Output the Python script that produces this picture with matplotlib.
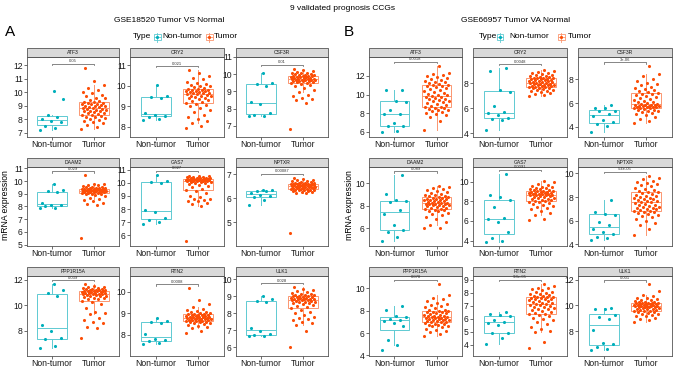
import numpy as np
import matplotlib.pyplot as plt
from matplotlib.patches import Rectangle

plt.rcParams['font.family'] = ['Liberation Sans', 'DejaVu Sans']

genes = ['ATF3', 'CRY2', 'CSF3R', 'DAAM2', 'GAS7', 'NPTXR', 'PPP1R15A', 'RTN2', 'ULK1']
groups = ['Non-tumor', 'Tumor']
pvals_a = ['0.05', '0.021', '0.01', '0.029', '0.027', '0.00087', '0.039', '0.0008', '0.028']
pvals_b = ['0.0018', '0.0048', '3e-06', '0.089', '0.0091', '5.4e-05', '0.078', '9.8e-05', '0.001']

# GSE18520 - non-tumor
a_atf3_n = [7.2, 7.4, 7.5, 7.8, 7.9, 8.0, 8.2, 8.3, 9.5, 10.1]
a_cry2_n = [8.35, 8.4, 8.5, 8.55, 8.6, 8.65, 9.4, 9.45, 9.5, 10.05]
a_csf3r_n = [7.6, 7.6, 7.65, 7.75, 8.3, 8.4, 9.3, 9.45, 9.5, 10.05]
a_daam2_n = [7.85, 7.9, 8.05, 8.1, 8.15, 8.25, 9.1, 9.2, 9.3, 9.75]
a_gas7_n = [6.9, 7.0, 7.2, 7.3, 7.75, 7.95, 10.0, 10.05, 10.1, 10.6]
a_nptxr_n = [5.72, 5.92, 6.05, 6.1, 6.15, 6.2, 6.3, 6.3, 6.32, 6.35]
a_ppp1r15a_n = [6.6, 6.75, 7.3, 7.4, 7.95, 8.45, 10.7, 10.95, 11.2, 11.65]
a_rtn2_n = [7.6, 7.65, 7.7, 7.75, 7.8, 8.05, 8.55, 8.6, 8.65, 8.8]
a_ulk1_n = [6.7, 6.7, 6.75, 6.8, 6.95, 7.15, 8.7, 8.75, 8.85, 9.05]

# GSE18520 - tumor
a_atf3_t = [7.3, 7.45, 7.6, 7.7, 7.8, 7.9, 7.95, 8.0, 8.1, 8.15, 8.2, 8.25, 8.3, 8.32,
            8.4, 8.45, 8.5, 8.55, 8.6, 8.62, 8.65, 8.7, 8.72, 8.75, 8.8, 8.82, 8.84,
            8.88, 8.9, 8.95, 9.0, 9.02, 9.05, 9.1, 9.12, 9.15, 9.2, 9.22, 9.25, 9.28,
            9.35, 9.45, 9.55, 9.6, 9.7, 9.8, 9.95, 10.05, 10.2, 10.35, 10.55, 10.8, 11.8]
a_cry2_t = [7.95, 8.05, 8.2, 8.3, 8.4, 8.5, 8.6, 8.7, 8.8, 8.9, 9.0, 9.05, 9.1, 9.15,
            9.2, 9.25, 9.3, 9.35, 9.4, 9.42, 9.45, 9.48, 9.5, 9.52, 9.55, 9.58, 9.6,
            9.62, 9.64, 9.66, 9.68, 9.7, 9.72, 9.74, 9.76, 9.78, 9.8, 9.81, 9.82, 9.83,
            9.88, 9.92, 9.96, 10.0, 10.05, 10.1, 10.15, 10.2, 10.3, 10.35, 10.45, 10.6, 10.75]
a_csf3r_t = [6.85, 8.35, 8.5, 8.55, 8.6, 8.75, 8.8, 8.95, 9.1, 9.2, 9.3, 9.4, 9.45, 9.5,
             9.52, 9.54, 9.56, 9.58, 9.6, 9.62, 9.63, 9.64, 9.65, 9.66, 9.67, 9.68, 9.7,
             9.72, 9.74, 9.75, 9.76, 9.78, 9.8, 9.82, 9.84, 9.85, 9.86, 9.88, 9.89, 9.9,
             9.92, 9.94, 9.96, 9.98, 10.0, 10.02, 10.05, 10.08, 10.1, 10.15, 10.2, 10.25, 10.32]
a_daam2_t = [5.5, 8.15, 8.2, 8.3, 8.4, 8.5, 8.6, 8.7, 8.8, 8.9, 8.95, 9.0, 9.02, 9.05,
             9.07, 9.09, 9.1, 9.12, 9.14, 9.15, 9.17, 9.18, 9.2, 9.21, 9.22, 9.24, 9.25,
             9.26, 9.27, 9.28, 9.29, 9.3, 9.31, 9.32, 9.34, 9.35, 9.36, 9.37, 9.39, 9.4,
             9.42, 9.44, 9.46, 9.48, 9.5, 9.52, 9.55, 9.6, 9.65, 9.7, 9.75, 9.8, 10.45]
a_gas7_t = [5.6, 8.25, 8.4, 8.5, 8.6, 8.65, 8.7, 8.75, 8.8, 8.9, 9.0, 9.2, 9.35, 9.45,
            9.55, 9.65, 9.75, 9.85, 9.9, 9.95, 10.0, 10.03, 10.06, 10.08, 10.1, 10.12, 10.15,
            10.16, 10.17, 10.18, 10.19, 10.2, 10.21, 10.22, 10.24, 10.25, 10.26, 10.28, 10.29, 10.3,
            10.31, 10.32, 10.33, 10.35, 10.36, 10.38, 10.4, 10.42, 10.44, 10.46, 10.48, 10.5, 10.55]
a_nptxr_t = [4.55, 6.2, 6.22, 6.24, 6.26, 6.28, 6.3, 6.32, 6.33, 6.34, 6.35, 6.36, 6.38, 6.39,
             6.4, 6.41, 6.42, 6.43, 6.44, 6.45, 6.46, 6.46, 6.47, 6.48, 6.48, 6.49, 6.5,
             6.51, 6.52, 6.53, 6.54, 6.55, 6.55, 6.56, 6.57, 6.57, 6.58, 6.59, 6.59, 6.6,
             6.61, 6.62, 6.63, 6.64, 6.65, 6.66, 6.68, 6.7, 6.72, 6.74, 6.77, 6.8, 6.85]
a_ppp1r15a_t = [7.4, 8.2, 8.25, 8.6, 8.7, 8.8, 9.0, 9.3, 9.4, 9.5, 9.8, 10.1, 10.25, 10.35,
                10.45, 10.5, 10.55, 10.6, 10.65, 10.7, 10.72, 10.75, 10.78, 10.8, 10.85, 10.88, 10.9,
                10.92, 10.94, 10.96, 10.98, 11.0, 11.02, 11.04, 11.06, 11.08, 11.1, 11.12, 11.14, 11.15,
                11.17, 11.19, 11.21, 11.23, 11.25, 11.28, 11.3, 11.33, 11.36, 11.4, 11.45, 11.5, 11.65]
a_rtn2_t = [8.1, 8.2, 8.3, 8.38, 8.43, 8.48, 8.52, 8.55, 8.57, 8.59, 8.61, 8.62, 8.64, 8.65,
            8.66, 8.67, 8.68, 8.7, 8.71, 8.72, 8.73, 8.74, 8.75, 8.76, 8.78, 8.79, 8.8,
            8.81, 8.82, 8.83, 8.84, 8.85, 8.86, 8.87, 8.89, 8.9, 8.91, 8.92, 8.94, 8.95,
            8.97, 8.99, 9.01, 9.03, 9.05, 9.08, 9.1, 9.15, 9.2, 9.3, 9.45, 9.6, 10.15]
a_ulk1_t = [6.05, 6.95, 7.3, 7.45, 7.5, 7.6, 7.7, 7.75, 7.8, 7.9, 8.0, 8.1, 8.2, 8.3,
            8.4, 8.45, 8.5, 8.55, 8.6, 8.62, 8.65, 8.68, 8.7, 8.72, 8.75, 8.78, 8.8,
            8.81, 8.82, 8.83, 8.84, 8.85, 8.86, 8.88, 8.9, 8.92, 8.94, 8.96, 8.98, 9.0,
            9.02, 9.04, 9.06, 9.08, 9.1, 9.12, 9.15, 9.2, 9.25, 9.3, 9.35, 9.45, 9.55]

# GSE66957 - non-tumor
b_atf3_n = [5.95, 6.1, 6.6, 6.65, 6.9, 7.9, 7.95, 8.3, 9.25, 9.3, 10.45, 10.5]
b_cry2_n = [4.3, 5.05, 5.15, 5.25, 5.5, 5.6, 5.7, 6.2, 7.3, 7.5, 9.0, 9.2]
b_csf3r_n = [3.55, 4.1, 4.2, 4.4, 4.6, 4.9, 5.1, 5.3, 5.35, 5.55, 5.6, 5.8]
b_daam2_n = [4.85, 5.2, 5.7, 5.85, 6.3, 7.3, 7.6, 8.3, 8.4, 8.5, 9.05, 10.7]
b_gas7_n = [3.9, 3.95, 4.3, 4.85, 5.9, 6.2, 6.3, 7.4, 8.1, 8.4, 8.6, 10.8]
b_nptxr_n = [4.35, 4.55, 4.65, 4.9, 5.0, 5.3, 5.6, 5.9, 6.5, 6.6, 6.7, 7.75]
b_ppp1r15a_n = [4.5, 4.9, 5.4, 6.6, 6.9, 7.1, 7.2, 7.3, 7.4, 7.5, 8.05, 8.4]
b_rtn2_n = [4.05, 4.5, 4.9, 4.95, 5.55, 5.7, 5.8, 5.9, 6.2, 6.3, 6.4, 6.55]
b_ulk1_n = [6.55, 6.6, 6.75, 7.0, 7.1, 8.05, 8.95, 9.1, 9.25, 9.7, 9.75, 9.8]

# GSE66957 - tumor
b_atf3_t = [6.2, 7.2, 7.6, 7.8, 7.9, 8.0, 8.1, 8.2, 8.3, 8.35, 8.45, 8.5, 8.6, 8.65, 8.7,
            8.8, 8.9, 9.0, 9.1, 9.2, 9.3, 9.35, 9.4, 9.5, 9.55, 9.6, 9.7, 9.75, 9.8,
            9.9, 10.0, 10.1, 10.2, 10.3, 10.4, 10.5, 10.6, 10.7, 10.8, 10.9, 10.95, 11.0, 11.05,
            11.1, 11.2, 11.3, 11.4, 11.5, 11.6, 11.7, 11.8, 11.9, 12.0, 12.1, 12.2, 12.3, 13.1]
b_cry2_t = [7.0, 7.05, 7.15, 7.2, 7.3, 7.35, 7.4, 7.45, 7.5, 7.55, 7.6, 7.62, 7.65, 7.68, 7.7,
            7.72, 7.75, 7.78, 7.8, 7.83, 7.86, 7.88, 7.9, 7.93, 7.95, 7.98, 8.0, 8.03, 8.05,
            8.07, 8.1, 8.12, 8.15, 8.18, 8.2, 8.22, 8.25, 8.28, 8.3, 8.33, 8.36, 8.38, 8.4,
            8.42, 8.45, 8.48, 8.5, 8.55, 8.6, 8.65, 8.7, 8.75, 8.8, 8.85, 8.9, 9.0, 9.1]
b_csf3r_t = [4.3, 4.5, 4.65, 4.8, 4.95, 5.05, 5.15, 5.25, 5.3, 5.35, 5.4, 5.45, 5.5, 5.55, 5.6,
             5.62, 5.64, 5.66, 5.68, 5.7, 5.72, 5.74, 5.76, 5.78, 5.8, 5.83, 5.85, 5.88, 5.9,
             5.95, 6.0, 6.05, 6.1, 6.2, 6.3, 6.35, 6.4, 6.5, 6.6, 6.7, 6.75, 6.8, 6.85,
             6.9, 7.0, 7.1, 7.2, 7.3, 7.4, 7.5, 7.6, 7.7, 7.85, 8.0, 8.3, 8.5, 9.1]
b_daam2_t = [6.0, 6.05, 6.3, 6.6, 6.8, 7.0, 7.15, 7.3, 7.4, 7.5, 7.55, 7.6, 7.65, 7.7, 7.75,
             7.8, 7.85, 7.9, 7.95, 8.0, 8.03, 8.06, 8.1, 8.12, 8.15, 8.18, 8.2, 8.22, 8.25,
             8.28, 8.3, 8.35, 8.4, 8.45, 8.5, 8.52, 8.55, 8.6, 8.62, 8.65, 8.7, 8.72, 8.75,
             8.8, 8.85, 8.9, 8.95, 9.0, 9.05, 9.1, 9.2, 9.3, 9.4, 9.5, 9.6, 9.7, 9.8]
b_gas7_t = [6.1, 6.2, 6.6, 6.8, 7.0, 7.2, 7.3, 7.4, 7.5, 7.6, 7.7, 7.8, 7.9, 7.95, 8.0,
            8.05, 8.1, 8.15, 8.2, 8.25, 8.3, 8.35, 8.4, 8.45, 8.5, 8.55, 8.6, 8.62, 8.65,
            8.68, 8.7, 8.72, 8.75, 8.78, 8.8, 8.85, 8.88, 8.9, 8.95, 8.98, 9.0, 9.02, 9.05,
            9.1, 9.15, 9.2, 9.25, 9.3, 9.35, 9.4, 9.45, 9.5, 9.6, 9.7, 9.8, 9.95, 10.1]
b_nptxr_t = [4.8, 5.25, 5.6, 5.8, 6.0, 6.15, 6.3, 6.4, 6.5, 6.6, 6.65, 6.7, 6.75, 6.8, 6.85,
             6.9, 6.95, 7.0, 7.05, 7.1, 7.15, 7.2, 7.25, 7.3, 7.35, 7.4, 7.5, 7.55, 7.6,
             7.65, 7.7, 7.75, 7.8, 7.85, 7.9, 7.95, 8.0, 8.05, 8.1, 8.2, 8.3, 8.35, 8.4,
             8.45, 8.5, 8.6, 8.7, 8.8, 8.9, 9.0, 9.1, 9.2, 9.3, 9.4, 9.5, 9.65, 9.8]
b_ppp1r15a_t = [5.7, 5.9, 6.1, 6.2, 6.3, 6.4, 6.5, 6.6, 6.65, 6.7, 6.75, 6.8, 6.85, 6.9, 6.95,
                7.0, 7.03, 7.06, 7.1, 7.13, 7.16, 7.2, 7.23, 7.26, 7.3, 7.33, 7.36, 7.38, 7.4,
                7.43, 7.46, 7.5, 7.53, 7.56, 7.6, 7.65, 7.7, 7.75, 7.8, 7.85, 7.9, 7.92, 7.95,
                8.0, 8.05, 8.1, 8.2, 8.3, 8.4, 8.5, 8.6, 8.7, 8.85, 9.0, 9.15, 9.4, 10.4]
b_rtn2_t = [3.75, 4.2, 5.0, 5.1, 5.2, 5.4, 5.6, 5.75, 5.9, 6.0, 6.1, 6.2, 6.3, 6.35, 6.4,
            6.45, 6.5, 6.6, 6.7, 6.75, 6.8, 6.85, 6.9, 6.95, 7.0, 7.05, 7.1, 7.12, 7.15,
            7.2, 7.25, 7.3, 7.35, 7.4, 7.45, 7.5, 7.52, 7.55, 7.6, 7.63, 7.66, 7.68, 7.7,
            7.75, 7.8, 7.85, 7.9, 7.95, 8.0, 8.05, 8.1, 8.2, 8.3, 8.35, 8.4, 8.55, 8.7]
b_ulk1_t = [8.7, 8.85, 8.95, 9.05, 9.15, 9.2, 9.25, 9.3, 9.35, 9.4, 9.45, 9.5, 9.55, 9.58, 9.6,
            9.63, 9.66, 9.7, 9.73, 9.76, 9.79, 9.82, 9.85, 9.87, 9.89, 9.91, 9.92, 9.94, 9.95,
            9.96, 9.98, 10.0, 10.02, 10.04, 10.06, 10.08, 10.1, 10.12, 10.14, 10.16, 10.17, 10.19, 10.2,
            10.22, 10.25, 10.28, 10.3, 10.35, 10.4, 10.45, 10.5, 10.55, 10.6, 10.7, 10.85, 11.1, 11.65]

panel_a = [(a_atf3_n, a_atf3_t), (a_cry2_n, a_cry2_t), (a_csf3r_n, a_csf3r_t),
           (a_daam2_n, a_daam2_t), (a_gas7_n, a_gas7_t), (a_nptxr_n, a_nptxr_t),
           (a_ppp1r15a_n, a_ppp1r15a_t), (a_rtn2_n, a_rtn2_t), (a_ulk1_n, a_ulk1_t)]
panel_b = [(b_atf3_n, b_atf3_t), (b_cry2_n, b_cry2_t), (b_csf3r_n, b_csf3r_t),
           (b_daam2_n, b_daam2_t), (b_gas7_n, b_gas7_t), (b_nptxr_n, b_nptxr_t),
           (b_ppp1r15a_n, b_ppp1r15a_t), (b_rtn2_n, b_rtn2_t), (b_ulk1_n, b_ulk1_t)]

# axis settings (free y scales per facet)
ylim_a = [(6.7, 12.6), (7.51, 11.39), (6.36, 11.0), (4.9, 11.1), (5.2, 11.2), (4.0, 7.3),
          (6.0, 12.3), (7.03, 10.72), (5.5, 10.2)]
ticks_a = [range(7, 13), range(8, 12), range(7, 12), range(5, 12), range(6, 12), range(5, 8),
           [8, 10, 12], range(8, 11), range(6, 11)]
ylim_b = [(5.43, 14.04), (3.7, 10.1), (3.13, 9.9), (4.43, 11.45), (3.45, 11.5), (3.85, 10.55),
          (3.95, 11.1), (3.15, 9.3), (6.05, 12.3)]
ticks_b = [[6, 8, 10, 12], [4, 6, 8], [4, 6, 8], [6, 8, 10], [4, 6, 8, 10], [4, 6, 8, 10],
           [4, 6, 8, 10], range(4, 10), [8, 10, 12]]

W, H = 677, 369
fig = plt.figure(figsize=(W / 100, H / 100), dpi=100)

teal, orange = '#00AFBB', '#FC4E07'
teal_box, orange_box = '#5FCAD2', '#FB9670'
cols_a = [(27, 119), (130, 224), (236, 328)]
cols_b = [(369, 462), (473, 567), (578, 672)]
rows = [(57, 137), (167, 246), (276, 356)]
strip_h = 9


def draw_facet(x0, x1, y0, y1, gene, vals, p, ylim, ticks):
    ax = fig.add_axes([x0 / W, 1 - y1 / H, (x1 - x0) / W, (y1 - y0) / H])
    for k, v in enumerate(vals):
        c, cb = (teal, teal_box) if k == 0 else (orange, orange_box)
        v = np.asarray(v)
        ax.boxplot([v], positions=[k + 1], widths=0.7, showfliers=False, showcaps=False,
                   patch_artist=True,
                   boxprops=dict(facecolor='white', edgecolor=cb, lw=0.7),
                   medianprops=dict(color=cb, lw=0.7),
                   whiskerprops=dict(color=cb, lw=0.7))
        jit = ((np.arange(len(v)) * 0.618034) % 1 - 0.5) * 0.6
        ax.scatter(k + 1 + jit, v, s=5, color=c, lw=0, zorder=3)
    ax.set_xlim(0.4, 2.6)
    ax.set_ylim(*ylim)
    ax.set_yticks(list(ticks))
    ax.set_xticks([1, 2])
    ax.set_xticklabels(groups)
    ax.tick_params(labelsize=6.2, length=2, width=0.5, color='#333333', pad=1,
                   labelcolor='#1A1A1A')
    ax.tick_params(axis='x', pad=0.4)
    for s in ax.spines.values():
        s.set_color('#555555')
        s.set_linewidth(0.6)
    span = ylim[1] - ylim[0]
    top = max(max(vals[0]), max(vals[1]))
    yb = top + 0.05 * span
    d = 0.015 * span
    ax.plot([1, 1, 2, 2], [yb - d, yb, yb, yb - d], color='#555555', lw=0.5, clip_on=False)
    ax.text(1.5, yb + 0.006 * span, p, ha='center', va='bottom', fontsize=3, color='#333333')
    sh = strip_h / (y1 - y0)
    ax.add_patch(Rectangle((0, 1), 1, sh, transform=ax.transAxes, clip_on=False,
                           fc='#D9D9D9', ec='#555555', lw=0.6))
    ax.text(0.5, 1 + sh / 2, gene, transform=ax.transAxes, ha='center', va='center',
            fontsize=3.6, color='#1A1A1A')
    return ax


for cols, panel, pv, ylims, tks in [(cols_a, panel_a, pvals_a, ylim_a, ticks_a),
                                    (cols_b, panel_b, pvals_b, ylim_b, ticks_b)]:
    for i in range(9):
        r, c = divmod(i, 3)
        draw_facet(cols[c][0], cols[c][1], rows[r][0], rows[r][1], genes[i],
                   panel[i], pv[i], ylims[i], tks[i])


def legend_key(xc, yc, c, cb):
    w, h = 7, 6
    fig.add_artist(plt.Line2D([xc / W, xc / W], [1 - (yc - 4.5) / H, 1 - (yc + 4.5) / H],
                              color=cb, lw=0.6, transform=fig.transFigure))
    fig.add_artist(Rectangle(((xc - w / 2) / W, 1 - (yc + h / 2) / H), w / W, h / H,
                             fc='white', ec=cb, lw=0.6, transform=fig.transFigure))
    fig.add_artist(plt.Line2D([(xc - w / 2) / W, (xc + w / 2) / W], [1 - yc / H, 1 - yc / H],
                              color=cb, lw=0.6, transform=fig.transFigure))
    fig.add_artist(plt.Line2D([xc / W], [1 - yc / H], marker='o', ms=2.3, color=c, mew=0,
                              transform=fig.transFigure))


def ftext(x, y, s, **kw):
    fig.text(x / W, 1 - y / H, s, **kw)


ftext(343, 8, '9 validated prognosis CCGs', ha='center', va='center', fontsize=6)
for lx, tx, title, keys, ylx in [(10, 169.5, 'GSE18520 Tumor VS Normal', (133, 157, 162, 209, 214), 6),
                                 (349, 515.5, 'GSE66957 Tumor VA Normal', (479, 500, 509, 561, 568), 350)]:
    ftext(lx, 32, 'A' if lx < 100 else 'B', ha='center', va='center', fontsize=11)
    ftext(tx, 20, title, ha='center', va='center', fontsize=6)
    ftext(keys[0], 37, 'Type', ha='left', va='center', fontsize=6)
    legend_key(keys[1], 37, teal, teal_box)
    ftext(keys[2], 37, groups[0], ha='left', va='center', fontsize=6)
    legend_key(keys[3], 37, orange, orange_box)
    ftext(keys[4], 37, groups[1], ha='left', va='center', fontsize=6)
    ftext(ylx, 205, 'mRNA expression', ha='center', va='center', rotation=90, fontsize=6.2)

fig.savefig('out.png', dpi=100)
